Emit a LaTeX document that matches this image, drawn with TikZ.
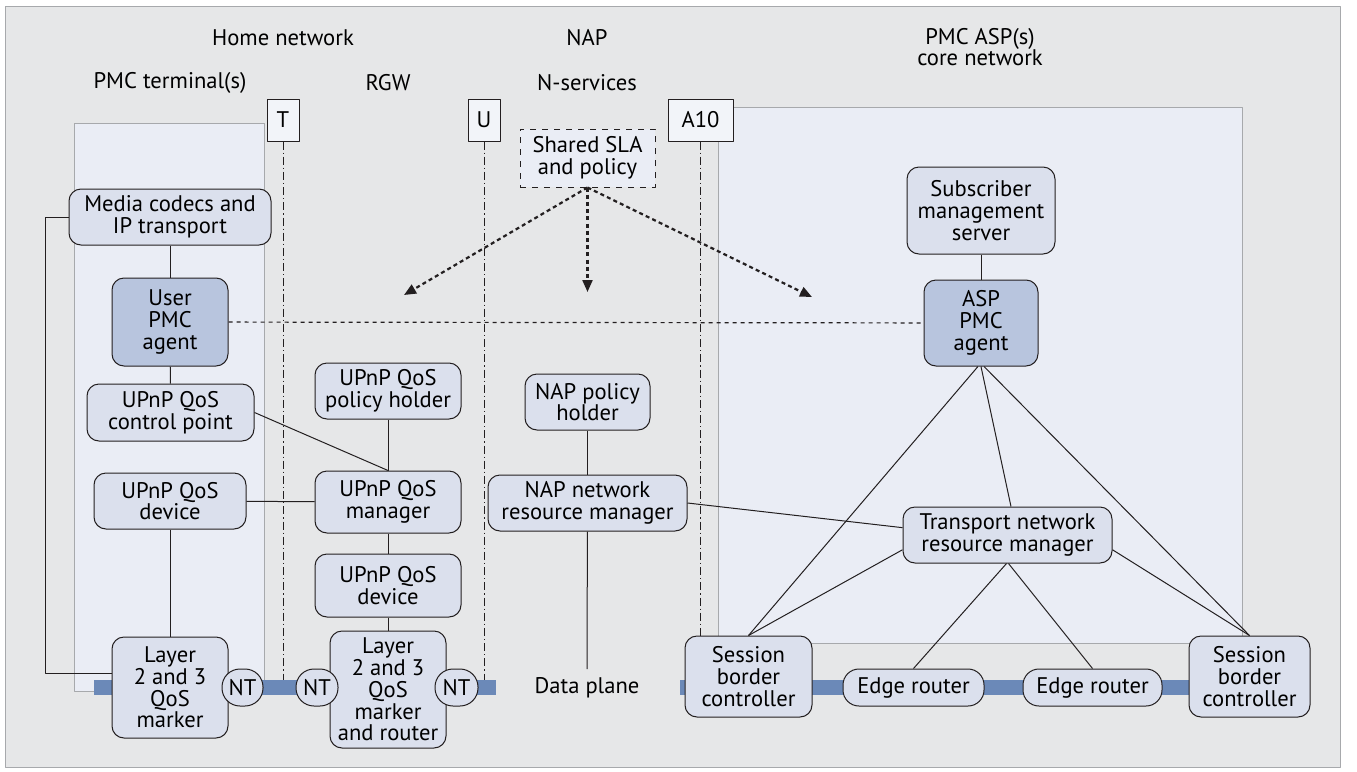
\documentclass[tikz,border=0pt]{standalone}
\usepackage{fontspec}
\setmainfont{PT Sans}
\usetikzlibrary{arrows.meta}
\definecolor{bggray}{HTML}{E6E7E8}
\definecolor{areafill}{HTML}{EAEDF5}
\definecolor{arealine}{HTML}{A7A9AC}
\definecolor{boxfill}{HTML}{DBE0ED}
\definecolor{agentfill}{HTML}{B8C5DE}
\definecolor{boxline}{HTML}{231F20}
\definecolor{barblue}{HTML}{6B89B8}
\begin{document}
\begin{tikzpicture}[x=0.5pt,y=-0.5pt,line join=round,font=\fontsize{11.3}{10.9}\selectfont,
	box/.style={draw=boxline,fill=boxfill,rounded corners=6pt,align=center,inner sep=1pt,line width=0.5pt},
	agent/.style={box,fill=agentfill},
	pill/.style={box,rounded corners=8pt,minimum height=18.5pt},
	ifc/.style={draw=boxline,fill=areafill!60!white,inner sep=0pt,minimum height=21pt,line width=0.5pt},
	lnk/.style={draw=boxline,line width=0.5pt},
	refpt/.style={draw=boxline,line width=0.5pt,dash pattern=on 4pt off 1.5pt on 0.6pt off 1.5pt},
	peer/.style={draw=boxline,line width=0.6pt,dash pattern=on 2pt off 2pt},
	sla/.style={draw=boxline,line width=1.1pt,dash pattern=on 2pt off 1.6pt,-{Triangle[length=6pt,width=5pt]}}]
	\useasboundingbox (0,0) rectangle (1357,772);
	% background and domains
	\draw[arealine,fill=bggray] (5,6) rectangle (1340,767);
	\draw[arealine,fill=areafill] (74,123) rectangle (264,691);
	\draw[arealine,fill=areafill] (718,107) rectangle (1242,643);
	\node (hhome) at (283,38) {Home network};
	\node (hnap) at (587,38) {NAP};
	\node[align=center] (hasp) at (980,47) {PMC ASP(s)\\core network};
	\node (hterm) at (170,83) {PMC terminal(s)};
	\node (hrgw) at (388,83) {RGW};
	\node (hnsrv) at (587,83) {N-services};
	% reference points
	\node[ifc,minimum width=16pt] (rT) at (283,120) {T};
	\node[ifc,minimum width=16pt] (rU) at (484,120) {U};
	\node[ifc,minimum width=32.5pt] (rA) at (700.5,120) {A10};
	\coordinate (eT) at (283,680);
	\coordinate (eU) at (484,680);
	\coordinate (eA) at (700.5,680);
	\draw[refpt] (rT) -- (eT);
	\draw[refpt] (rU) -- (eU);
	\draw[refpt] (rA) -- (eA);
	% data plane
	\fill[barblue] (94,680) rectangle (496,695);
	\fill[barblue] (680,680) rectangle (1250,695);
	\node (dp) at (587,688) {Data plane};
	% home network
	\node[box,minimum width=101pt,minimum height=28pt] (media) at (170,217) {Media codecs and\\IP transport};
	\node[agent,minimum width=58pt,minimum height=44pt] (uagent) at (170,322) {User\\PMC\\agent};
	\node[box,minimum width=83.5pt,minimum height=28.5pt] (ctrl) at (170.5,412.5) {UPnP QoS\\control point};
	\node[box,minimum width=76pt,minimum height=28pt] (tdev) at (170,501) {UPnP QoS\\device};
	\node[box,minimum width=58pt,minimum height=50.5pt] (tmark) at (170,687.5) {Layer\\2 and 3\\QoS\\marker};
	\node[pill,minimum width=20.5pt,rounded corners=9pt,inner sep=0pt] (nt1) at (242.5,687.5) {NT};
	\node[box,minimum width=73pt,minimum height=28pt] (qpol) at (388,391) {UPnP QoS\\policy holder};
	\node[box,minimum width=73pt,minimum height=31pt] (qmgr) at (388,502) {UPnP QoS\\manager};
	\node[box,minimum width=73pt,minimum height=31.5pt] (gdev) at (388,585.5) {UPnP QoS\\device};
	\node[box,minimum width=58pt,minimum height=58.5pt] (gmark) at (388,689.5) {Layer\\2 and 3\\QoS\\marker\\and router};
	\node[pill,minimum width=21pt,rounded corners=9pt,inner sep=0pt] (nt2) at (317,687.5) {NT};
	\node[pill,minimum width=21.5pt,rounded corners=9pt,inner sep=0pt] (nt3) at (456.5,687.5) {NT};
	% NAP
	\node[box,dashed,rounded corners=0pt,fill=areafill,minimum width=67.5pt,minimum height=29pt] (shsla) at (587.5,158) {Shared SLA\\and policy};
	\node[box,minimum width=62.5pt,minimum height=28pt] (npol) at (587.5,402) {NAP policy\\holder};
	\node[box,minimum width=99.5pt,minimum height=28pt] (nrm) at (587.5,503) {NAP network\\resource manager};
	% ASP core
	\node[box,minimum width=74pt,minimum height=43.5pt] (subs) at (981,210.5) {Subscriber\\management\\server};
	\node[agent,minimum width=57pt,minimum height=43pt] (aagent) at (981,323) {ASP\\PMC\\agent};
	\node[box,minimum width=104.5pt,minimum height=28pt] (tnrm) at (1007.5,535) {Transport network\\resource manager};
	\node[box,minimum width=63.5pt,minimum height=40.5pt] (sbc1) at (748.5,676.5) {Session\\border\\controller};
	\node[pill,minimum width=70.5pt] (er1) at (913.5,687.5) {Edge router};
	\node[pill,minimum width=69.5pt] (er2) at (1092.5,687.5) {Edge router};
	\node[box,minimum width=60.5pt,minimum height=40.5pt] (sbc2) at (1249.5,676.5) {Session\\border\\controller};
	% links
	\coordinate (lc) at (45,673);
	\draw[lnk] (media.west) -| (lc) -- (lc -| tmark.west);
	\draw[lnk] (media) -- (uagent);
	\draw[lnk] (uagent) -- (ctrl);
	\draw[lnk] (tdev) -- (tmark);
	\draw[lnk] (ctrl.east) -- (qmgr.north);
	\draw[lnk] (tdev) -- (qmgr);
	\draw[lnk] (qpol) -- (qmgr);
	\draw[lnk] (qmgr) -- (gdev);
	\draw[lnk] (gdev) -- (gmark);
	\draw[lnk] (npol) -- (nrm);
	\coordinate (dptop) at (587,669);
	\draw[lnk] (nrm) -- (dptop);
	\draw[lnk] (subs) -- (aagent);
	\draw[lnk] (nrm.east) -- (tnrm.176);
	\draw[lnk] (aagent.266) -- (sbc1.north);
	\draw[lnk] (aagent.south) -- (tnrm.83);
	\draw[lnk] (aagent.274) -- (sbc2.north);
	\draw[lnk] (tnrm.188) -- (sbc1.north);
	\draw[lnk] (tnrm.-8) -- (sbc2.north);
	\draw[lnk] (tnrm.268) -- (er1.north);
	\draw[lnk] (tnrm.272) -- (er2.north);
	\draw[peer] (uagent) -- (aagent);
	% shared SLA
	\coordinate (slaL) at (404,295);
	\coordinate (slaM) at (587.5,292);
	\coordinate (slaR) at (812,297);
	\draw[sla] (shsla.south) -- (slaL);
	\draw[sla] (shsla.south) -- (slaM);
	\draw[sla] (shsla.south) -- (slaR);
\end{tikzpicture}
\end{document}
